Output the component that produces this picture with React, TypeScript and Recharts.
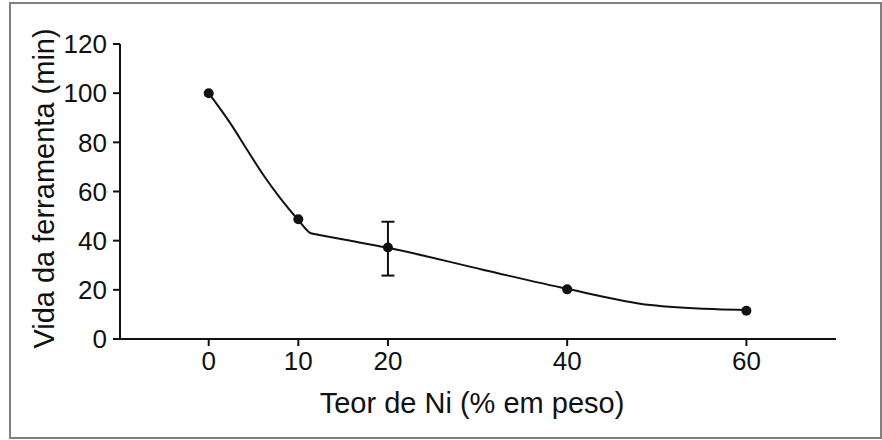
import React from "react"
import { ComposedChart, Line, Scatter, ErrorBar, XAxis, YAxis, Label } from "recharts"

// measured points (Ni content vs tool life)
const niContent = [0, 10, 20, 40, 60]
const toolLife = [100, 48.7, 37.2, 20.2, 11.5]
const errLow = [0, 0, 11.4, 0, 0]
const errHigh = [0, 0, 10.5, 0, 0]

// hand-drawn trend curve
const curveX = [0, 2.4, 4.3, 6.1, 8, 10, 11.4, 12.2, 15.7, 20, 30.7, 40, 49.3, 56.7, 60]
const curveY = [100, 87.8, 76.9, 66.7, 57.2, 48.4, 43, 42.45, 40.05, 37.1, 28.1, 20.4, 13.8, 12.1, 11.8]

const xTicks = [0, 10, 20, 40, 60]
const yTicks = [0, 20, 40, 60, 80, 100, 120]

const points = niContent.map((x, i) => ({
  x,
  y: toolLife[i],
  err: errLow[i] || errHigh[i] ? [errLow[i], errHigh[i]] : null,
}))
const curve = curveX.map((x, i) => ({ x, y: curveY[i] }))

const ink = "#111111"
const font = "'Liberation Sans', Arial, sans-serif"

const YTitle = (p: any) => {
  const vb = p.viewBox
  const cx = vb.x + 44
  const cy = vb.y + vb.height / 2 - 3
  return (
    <text
      x={cx}
      y={cy}
      transform={`rotate(-90, ${cx}, ${cy})`}
      textAnchor="middle"
      dominantBaseline="central"
      fontSize={29}
      fontFamily={font}
      fill={ink}
    >
      Vida da ferramenta (min)
    </text>
  )
}

const XTitle = (p: any) => {
  const vb = p.viewBox
  return (
    <text x={472} y={vb.y + 74} textAnchor="middle" fontSize={29} fontFamily={font} fill={ink}>
      Teor de Ni (% em peso)
    </text>
  )
}

const Dot = (p: any) => <circle cx={p.cx} cy={p.cy} r={5} fill={ink} />

export default function App() {
  return (
    <div style={{ position: "absolute", left: 0, top: 0, width: 882, height: 440, background: "#fff" }}>
      <div
        style={{
          position: "absolute",
          left: 9,
          top: 2,
          width: 873,
          height: 437,
          boxSizing: "border-box",
          border: "2px solid #808080",
        }}
      />
      <div style={{ position: "absolute", left: 0, top: 0 }}>
        <ComposedChart width={882} height={440} margin={{ top: 44, right: 46, bottom: 0, left: 0 }}>
          <XAxis
            type="number"
            dataKey="x"
            domain={[-9.9, 70]}
            ticks={xTicks}
            allowDataOverflow
            height={101}
            tickSize={7}
            tickMargin={6}
            axisLine={{ stroke: ink, strokeWidth: 2 }}
            tickLine={{ stroke: ink, strokeWidth: 2 }}
            tick={{ fill: ink, fontSize: 26, fontFamily: font }}
          >
            <Label content={XTitle} />
          </XAxis>
          <YAxis
            type="number"
            dataKey="y"
            domain={[0, 120]}
            ticks={yTicks}
            width={120}
            tickSize={7}
            tickMargin={6}
            axisLine={{ stroke: ink, strokeWidth: 2 }}
            tickLine={{ stroke: ink, strokeWidth: 2 }}
            tick={{ fill: ink, fontSize: 26, fontFamily: font }}
          >
            <Label content={YTitle} />
          </YAxis>
          <Line
            data={curve}
            dataKey="y"
            type="monotone"
            stroke={ink}
            strokeWidth={2}
            dot={false}
            activeDot={false}
            isAnimationActive={false}
          />
          <Scatter data={points} dataKey="y" fill={ink} shape={Dot} isAnimationActive={false}>
            <ErrorBar dataKey="err" direction="y" width={6.5} stroke={ink} strokeWidth={2} />
          </Scatter>
        </ComposedChart>
      </div>
    </div>
  )
}
